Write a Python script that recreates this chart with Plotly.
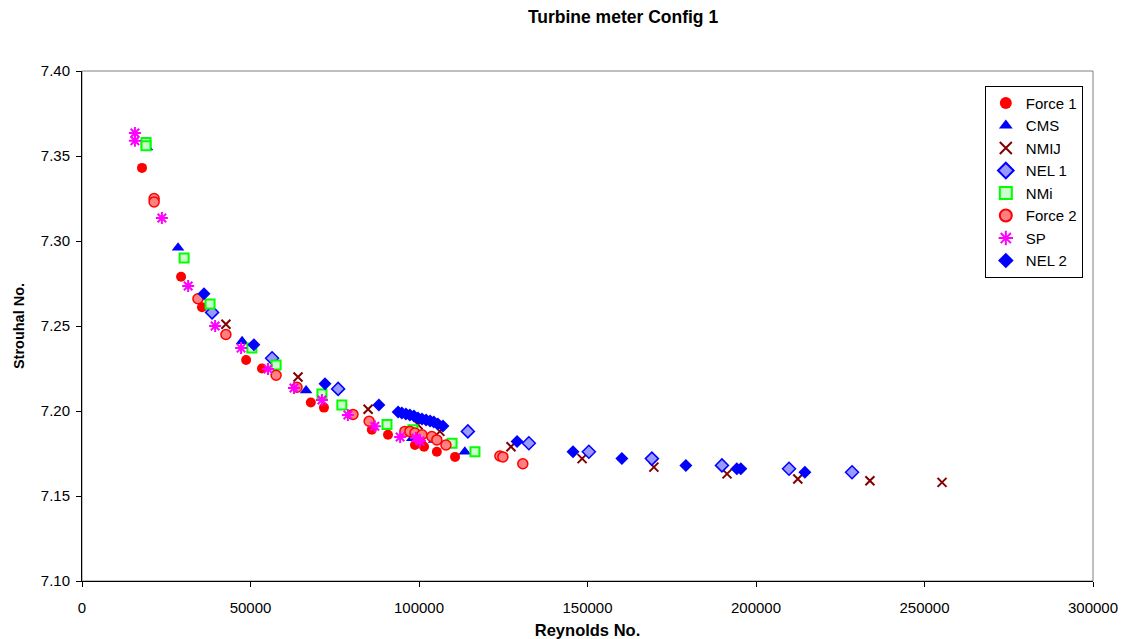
import plotly.graph_objects as go

# ---- data (Reynolds No., Strouhal No.) ----
force1_re = [17800, 29400, 35600, 48700, 53400, 67900, 71800, 86000, 90800, 98800, 101500, 105300, 110700]
force1_st = [7.343, 7.279, 7.261, 7.230, 7.225, 7.205, 7.202, 7.189, 7.186, 7.180, 7.179, 7.176, 7.173]

cms_re = [19300, 28500, 47500, 66500, 98000, 104500, 113600]
cms_st = [7.355, 7.296, 7.241, 7.212, 7.184, 7.183, 7.176]

nmij_re = [42700, 64100, 84900, 99700, 106200, 127300, 148400, 169700, 191400, 212400, 233800, 255200]
nmij_st = [7.251, 7.220, 7.201, 7.192, 7.188, 7.179, 7.172, 7.167, 7.163, 7.160, 7.159, 7.158]

nel1_re = [38600, 56400, 76000, 114500, 132600, 150400, 169100, 189900, 209800, 228500]
nel1_st = [7.258, 7.231, 7.213, 7.188, 7.181, 7.176, 7.172, 7.168, 7.166, 7.164]

nmi_re = [19000, 19000, 30300, 38000, 50400, 57600, 71200, 77100, 90500, 98200, 109800, 116600]
nmi_st = [7.358, 7.356, 7.290, 7.263, 7.237, 7.227, 7.210, 7.2035, 7.192, 7.189, 7.181, 7.176]

force2_re = [21400, 21400, 34400, 42700, 57600, 63800, 80400, 85200, 95800, 97300, 98800,
             100900, 103800, 105300, 108000, 124000, 124900, 130800]
force2_st = [7.325, 7.323, 7.266, 7.245, 7.221, 7.214, 7.198, 7.194, 7.188, 7.188, 7.187,
             7.186, 7.185, 7.183, 7.180, 7.1735, 7.173, 7.169]

sp_re = [15700, 15700, 23700, 31500, 39500, 47200, 55200, 62900, 71200, 78900, 86900, 94400, 99100, 100300]
sp_st = [7.3635, 7.359, 7.3135, 7.2735, 7.250, 7.237, 7.2247, 7.2135, 7.2065, 7.1976, 7.191, 7.1847, 7.1841, 7.1824]

nel2_re = [36200, 51000, 72100, 88100, 93800, 94900, 96100, 97300, 98500, 99700, 100900, 102100,
           103300, 104400, 105600, 107100, 129100, 145700, 160200, 179200, 194300, 195500, 214500]
nel2_st = [7.269, 7.239, 7.216, 7.2035, 7.1994, 7.1988, 7.1982, 7.1976, 7.197, 7.1959, 7.1953, 7.1947,
           7.1941, 7.1935, 7.1924, 7.1912, 7.182, 7.176, 7.172, 7.168, 7.166, 7.166, 7.164]

x_ticks = [0, 50000, 100000, 150000, 200000, 250000, 300000]
y_ticks = [7.10, 7.15, 7.20, 7.25, 7.30, 7.35, 7.40]

FONT = "Liberation Sans, Arial, sans-serif"

fig = go.Figure()

def add(name, xs, ys, symbol, size, fill, line_color, line_w):
    fig.add_trace(go.Scatter(
        x=xs, y=ys, mode="markers", name=name,
        marker=dict(symbol=symbol, size=size, color=fill,
                    line=dict(color=line_color, width=line_w)),
    ))

add("Force 1", force1_re, force1_st, "circle", 10, "#FF0000", "#FF0000", 0)
add("CMS", cms_re, cms_st, "triangle-up", 11, "#0000FF", "#0000FF", 0)
add("NMIJ", nmij_re, nmij_st, "x-thin-open", 9, "#800000", "#800000", 2)
add("NEL 1", nel1_re, nel1_st, "diamond", 10, "#9999FF", "#0000FF", 1.5)
add("NMi", nmi_re, nmi_st, "square", 9, "#CCFFCC", "#00FF00", 2)
add("Force 2", force2_re, force2_st, "circle", 10, "#FF8080", "#FF0000", 1.5)
add("SP", sp_re, sp_st, "asterisk-open", 10, "#FF00FF", "#FF00FF", 2)
add("NEL 2", nel2_re, nel2_st, "diamond", 10, "#0000FF", "#0000FF", 0)

fig.update_layout(
    width=1130, height=639,
    margin=dict(l=82, r=37, t=71, b=58, autoexpand=False),
    paper_bgcolor="white", plot_bgcolor="white",
    font=dict(family=FONT, size=15, color="black"),
    title=dict(text="<b>Turbine meter Config 1</b>", x=623/1130, xanchor="center",
               y=1 - 17/639, yanchor="middle", font=dict(size=17.5, family=FONT)),
    showlegend=True,
    legend=dict(x=0.893, y=0.971, xanchor="left", yanchor="top",
                bordercolor="black", borderwidth=1, bgcolor="white",
                font=dict(size=15, family=FONT), itemsizing="constant",
                itemwidth=30),
    shapes=[dict(type="rect", xref="paper", yref="paper", x0=0, y0=0, x1=1, y1=1,
                 line=dict(color="#808080", width=1), layer="below")],
)

fig.update_xaxes(
    range=[0, 300000], tickvals=x_ticks, ticktext=[str(v) for v in x_ticks],
    showgrid=False, zeroline=False, showline=True, linecolor="black", linewidth=1,
    ticks="outside", ticklen=5, tickcolor="black", automargin=False,
    ticklabelstandoff=8,
    title=dict(text="<b>Reynolds No.</b>", font=dict(size=16.5, family=FONT), standoff=12),
    tickfont=dict(size=15, family=FONT),
)
fig.update_yaxes(
    range=[7.10, 7.40], tickvals=y_ticks, ticktext=[f"{v:.2f}" for v in y_ticks],
    showgrid=False, zeroline=False, showline=True, linecolor="black", linewidth=1,
    ticks="outside", ticklen=5, tickcolor="black", automargin=False,
    ticklabelstandoff=3,
    title=dict(text="<b>Strouhal No.</b>", font=dict(size=14.5, family=FONT), standoff=12),
    tickfont=dict(size=15, family=FONT),
)

fig.write_html("out.html")
